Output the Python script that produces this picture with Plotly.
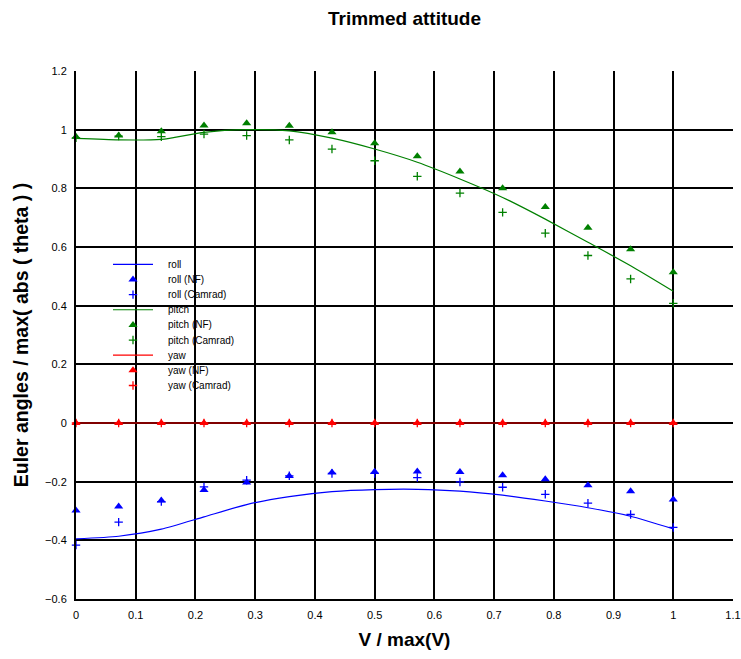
import plotly.graph_objects as go

# Normalised airspeed stations
v_norm = [0, 1/14, 2/14, 3/14, 4/14, 5/14, 6/14, 7/14, 8/14, 9/14, 10/14, 11/14, 12/14, 13/14, 1]

# Model curves
roll_model = [-0.395, -0.386, -0.362, -0.320, -0.278, -0.251, -0.234, -0.227,
              -0.226, -0.232, -0.246, -0.266, -0.289, -0.318, -0.361]
pitch_model = [0.970, 0.965, 0.967, 0.991, 1.000, 0.996, 0.971, 0.934,
               0.889, 0.832, 0.769, 0.695, 0.616, 0.536, 0.449]
yaw_model = [0.0] * 15

# NF results
roll_nf = [-0.298, -0.285, -0.264, -0.228, -0.203, -0.181, -0.169, -0.166,
           -0.165, -0.167, -0.178, -0.192, -0.212, -0.233, -0.261]
pitch_nf = [0.976, 0.980, 0.995, 1.014, 1.022, 1.013, 0.991, 0.954,
            0.909, 0.857, 0.800, 0.736, 0.666, 0.592, 0.514]
yaw_nf = [0.0] * 15

# Camrad results
roll_camrad = [-0.416, -0.338, -0.268, -0.218, -0.195, -0.180, -0.172, -0.172,
               -0.186, -0.201, -0.219, -0.243, -0.273, -0.312, -0.356]
pitch_camrad = [0.972, 0.978, 0.976, 0.985, 0.980, 0.965, 0.934, 0.894,
                0.841, 0.784, 0.718, 0.647, 0.571, 0.491, 0.408]
yaw_camrad = [0.0] * 15

series = [
    ("roll", "#0000ff", roll_model, roll_nf, roll_camrad),
    ("pitch", "#008000", pitch_model, pitch_nf, pitch_camrad),
    ("yaw", "#ff0000", yaw_model, yaw_nf, yaw_camrad),
]

FONT = "Liberation Sans, Arial, sans-serif"
W, H = 741, 659
M_L, M_R, M_T, M_B = 76, 8, 71, 60

line_style = dict(width=1.2, shape="spline", smoothing=0.6)
tri_style = dict(symbol="triangle-up", size=8)
cross_style = dict(symbol="cross-thin", size=6)

fig = go.Figure()
for name, color, model, nf, camrad in series:
    fig.add_trace(go.Scatter(
        x=v_norm, y=model, name=name, mode="lines",
        line=dict(color=color, **line_style),
    ))
    fig.add_trace(go.Scatter(
        x=v_norm, y=nf, name=f"{name} (NF)", mode="markers",
        marker=dict(color=color, **tri_style), cliponaxis=False,
    ))
    fig.add_trace(go.Scatter(
        x=v_norm, y=camrad, name=f"{name} (Camrad)", mode="markers",
        marker=dict(line=dict(color=color, width=1.3), **cross_style), cliponaxis=False,
    ))

# Compact key drawn on a hidden overlay axis measured in pixels
key_left, key_right, key_text = 113, 153, 166
key_top, key_step = 264.3, 15.15
row = 0
annotations = []
for name, color, *_ in series:
    for kind, label in (("line", name), ("tri", f"{name} (NF)"), ("cross", f"{name} (Camrad)")):
        ky = key_top + row * key_step
        if kind == "line":
            fig.add_trace(go.Scatter(
                x=[key_left, key_right], y=[ky, ky], mode="lines",
                line=dict(color=color, width=1.2), xaxis="x2", yaxis="y2",
                showlegend=False, hoverinfo="skip",
            ))
        elif kind == "tri":
            fig.add_trace(go.Scatter(
                x=[(key_left + key_right) / 2], y=[ky], mode="markers",
                marker=dict(color=color, **tri_style), xaxis="x2", yaxis="y2",
                showlegend=False, hoverinfo="skip",
            ))
        else:
            fig.add_trace(go.Scatter(
                x=[(key_left + key_right) / 2], y=[ky], mode="markers",
                marker=dict(line=dict(color=color, width=1.3), **cross_style),
                xaxis="x2", yaxis="y2", showlegend=False, hoverinfo="skip",
            ))
        annotations.append(dict(
            x=key_text, y=ky, xref="x2", yref="y2", text=label, showarrow=False,
            xanchor="left", yanchor="middle", font=dict(size=10, color="#000000", family=FONT),
        ))
        row += 1

axis_common = dict(
    showgrid=True, gridcolor="#000000", gridwidth=2,
    showline=True, linecolor="#000000", linewidth=2,
    zeroline=False, ticks="outside", ticklen=5, tickcolor="rgba(0,0,0,0)",
    automargin=False,
    tickfont=dict(family=FONT, size=11, color="#000000"),
)

fig.update_layout(
    width=W, height=H,
    margin=dict(l=M_L, r=M_R, t=M_T, b=M_B),
    paper_bgcolor="#ffffff", plot_bgcolor="#ffffff",
    font=dict(family=FONT, color="#000000"),
    title=dict(
        text="<b>Trimmed attitude</b>", x=0.5, xref="paper", xanchor="center",
        y=1 - 18 / H, yref="container", yanchor="middle",
        font=dict(size=19, color="#000000"),
    ),
    xaxis=dict(
        range=[0, 1.1], dtick=0.1, tick0=0,
        title=dict(text="<b>V / max(V)</b>", font=dict(size=19), standoff=12),
        **axis_common,
    ),
    yaxis=dict(
        range=[-0.6, 1.2], dtick=0.2, tick0=0,
        title=dict(text="<b>Euler angles / max( abs ( theta ) )</b>", font=dict(size=19.5), standoff=11),
        **axis_common,
    ),
    xaxis2=dict(overlaying="x", anchor="y2", range=[M_L, W - M_R], visible=False),
    yaxis2=dict(overlaying="y", anchor="x2", range=[H - M_B, M_T], visible=False),
    annotations=annotations,
    showlegend=False,
)

fig.write_html("out.html")
